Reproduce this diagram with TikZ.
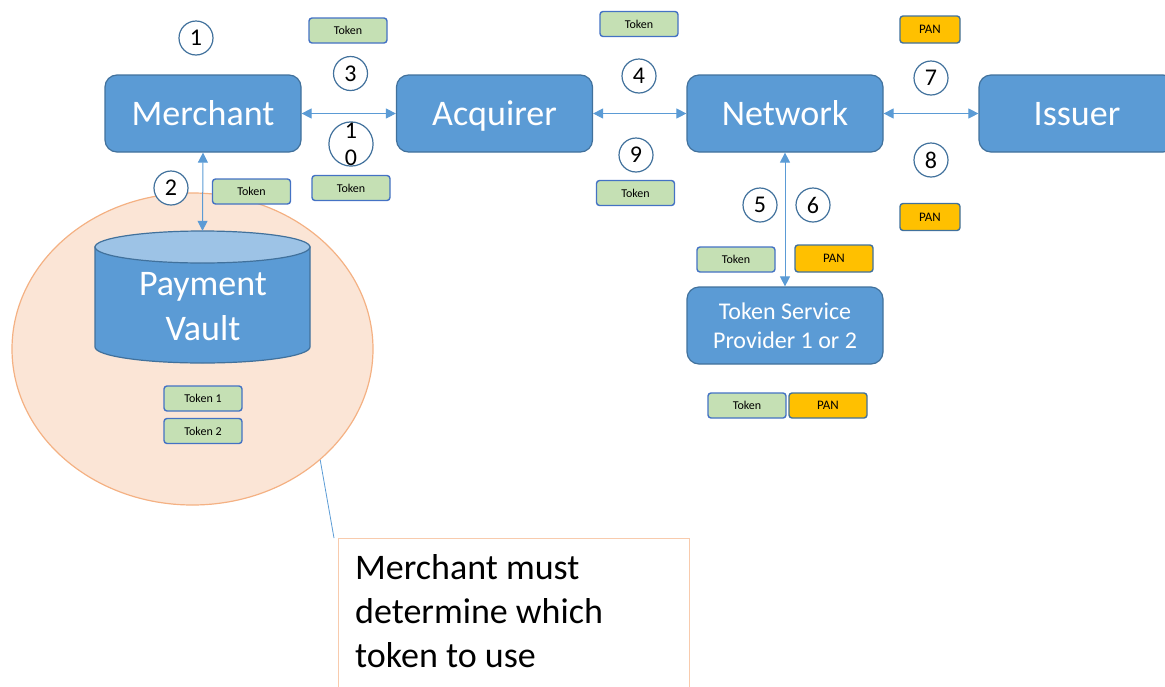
\documentclass[tikz,border=0pt]{standalone}
\usepackage{fontspec}
\setmainfont{Carlito}
\usetikzlibrary{arrows.meta,shapes.geometric}
\definecolor{boxfill}{HTML}{5B9BD5}
\definecolor{boxline}{HTML}{41719C}
\definecolor{arrowc}{HTML}{5B9BD5}
\definecolor{tokfill}{HTML}{C5E0B4}
\definecolor{tokline}{HTML}{4472C4}
\definecolor{panfill}{HTML}{FFC000}
\definecolor{panline}{HTML}{41719C}
\definecolor{zonefill}{HTML}{FBE5D6}
\definecolor{zoneline}{HTML}{F4B183}
\definecolor{noteline}{HTML}{F8CBAD}
\definecolor{vaulttop}{HTML}{9DC3E6}
\tikzset{
  party/.style={draw=boxline, fill=boxfill, rounded corners=12pt, line width=1.2pt,
    minimum width=196pt, minimum height=77pt, inner sep=0pt, text=white,
    font=\fontsize{36}{43}\selectfont},
  partyname/.style={party, text height=30pt, text depth=6pt},
  tag/.style={rounded corners=3pt, line width=1.4pt, minimum width=78pt,
    minimum height=25pt, inner sep=0pt, font=\fontsize{12}{14}\selectfont},
  tok/.style={tag, draw=tokline, fill=tokfill},
  pan/.style={tag, draw=panline, fill=panfill, font=\fontsize{13}{15}\selectfont},
  num/.style={circle, draw=boxline, fill=white, line width=1.2pt, minimum size=34pt,
    inner sep=0pt, font=\fontsize{24}{27}\selectfont},
  flow/.style={draw=arrowc, line width=1pt,
    {Triangle[length=10pt,width=10pt]}-{Triangle[length=10pt,width=10pt]}},
}
\begin{document}
\begin{tikzpicture}[x=1pt,y=-1pt]
\clip (0,0) rectangle (1165,686);

% merchant's storage zone
\node[ellipse, draw=zoneline, fill=zonefill, line width=1.2pt, minimum width=361pt,
  minimum height=312pt, inner sep=0pt] (zone) at (192.5,349) {};

% payment vault cylinder
\path[draw=boxline, fill=boxfill, line width=1.2pt]
  (95,247) -- (95,347) arc[start angle=180, end angle=0, x radius=107.5, y radius=16]
  -- (310,247) -- cycle;
\draw[draw=boxline, fill=vaulttop, line width=1.2pt]
  (202.5,247) ellipse[x radius=107.5, y radius=16];
\node[minimum width=215pt, minimum height=132pt, inner sep=0pt] (vault) at (202.5,297) {};
\node[text=white, align=center, font=\fontsize{36}{45}\selectfont] (vaulttext)
  at (203,307) {Payment\\Vault};

% parties
\node[partyname] (merchant) at (203,113.5) {Merchant};
\node[partyname] (acquirer) at (494.5,113.5) {Acquirer};
\node[partyname] (network) at (785,113.5) {Network};
\node[partyname] (issuer) at (1077,113.5) {Issuer};
\node[party, align=center, font=\fontsize{24}{29}\selectfont] (tsp) at (785,325.5)
  {Token Service\\Provider 1 or 2};

% message flows
\draw[flow] (merchant) -- (acquirer);
\draw[flow] (acquirer) -- (network);
\draw[flow] (network) -- (issuer);
\draw[flow] (merchant.south) -- (vault.north);
\draw[flow] (network.south) -- (tsp.north);

% step numbers
\node[num] (s1) at (196,38) {1};
\node[num] (s2) at (171,188) {2};
\node[num] (s3) at (350.5,73.5) {3};
\node[num, minimum size=44pt, align=center] (s10) at (351,144) {1\\0};
\node[num] (s4) at (639,76) {4};
\node[num] (s9) at (636,155) {9};
\node[num] (s5) at (760,205) {5};
\node[num] (s6) at (813,205) {6};
\node[num] (s7) at (931,78) {7};
\node[num] (s8) at (931,160) {8};

% data carried
\node[tok] (t3) at (348,30.5) {Token};
\node[tok] (t4) at (639,24) {Token};
\node[tok] (t2) at (251.5,191.5) {Token};
\node[tok] (t10) at (351,188) {Token};
\node[tok] (t9) at (635.5,193) {Token};
\node[tok] (t5) at (736,259.5) {Token};
\node[tok] (tmap) at (747,405.5) {Token};
\node[tok] (tk1) at (203,398.5) {Token 1};
\node[tok] (tk2) at (203,431) {Token 2};
\node[pan, minimum width=60pt, minimum height=27pt] (p7) at (930,29.5) {PAN};
\node[pan, minimum width=60pt, minimum height=27pt] (p8) at (930,217) {PAN};
\node[pan, minimum height=27pt] (p6) at (834,258.5) {PAN};
\node[pan] (pmap) at (828,405.5) {PAN};

% callout note
\node[draw=noteline, fill=white, line width=1.2pt, minimum width=351pt,
  minimum height=170pt, anchor=north west, inner sep=0pt] (note) at (338,538) {};
\coordinate (notetip) at (334,538);
\node[anchor=north west, inner sep=0pt, align=left,
  font=\fontsize{36}{44}\selectfont] (notetext) at (355,554)
  {Merchant must\\determine which\\token to use};
\draw[draw=arrowc, line width=0.8pt] (notetip) -- (zone.-41.4);
\end{tikzpicture}
\end{document}
